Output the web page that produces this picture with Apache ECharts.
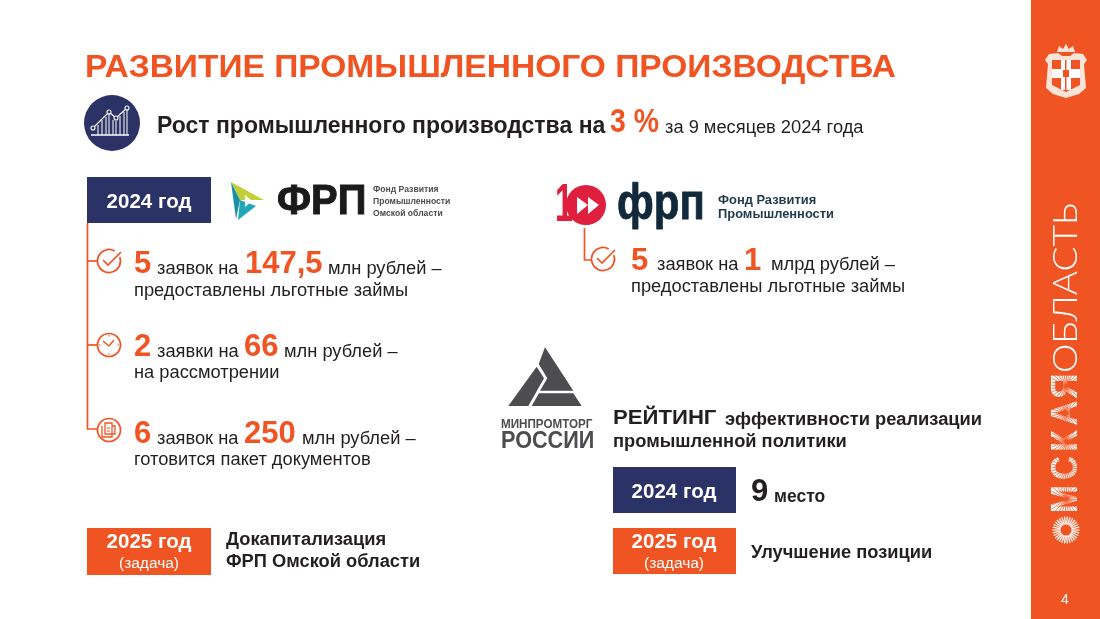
<!DOCTYPE html>
<html>
<head>
<meta charset="utf-8">
<style>html,body{margin:0;padding:0;background:#fff}#container{width:1100px;height:619px}</style>
<script src="https://cdn.jsdelivr.net/npm/echarts@6/dist/echarts.min.js"></script>
</head>
<body>
<div id="container"></div>
<script>
// тексты слайда
var titleText = 'РАЗВИТИЕ ПРОМЫШЛЕННОГО ПРОИЗВОДСТВА';
var growthLabel = 'Рост промышленного производства на';
var growthValue = '3 %';
var growthPeriod = 'за 9 месяцев 2024 года';

var fundCounts = ['5', '2', '6'];
var fundCountWords = ['заявок на', 'заявки на', 'заявок на'];
var fundAmounts = ['147,5', '66', '250'];
var fundNotes = ['предоставлены льготные займы', 'на рассмотрении', 'готовится пакет документов'];
var amountUnit = 'млн рублей –';
var fedCount = '5', fedAmount = '1', fedUnit = 'млрд рублей –';
var fundLogoLines = ['Фонд Развития', 'Промышленности', 'Омской области'];
var fedLogoLines = ['Фонд Развития', 'Промышленности'];
var sideLetters = ['М', 'С', 'К', 'А', 'Я'];

var ORANGE = '#F15423', NAVY = '#2B3265', INK = '#231F20', GREY = '#4D4D4F';
var FONT = '"Liberation Sans", Arial, sans-serif';
var BODY = 18.3, BIG = 31;
var els = [];

function txt(x, y, s, size, weight, color, align, extra, styleExtra) {
   var el = {
      type: 'text', x: x, y: y, silent: true,
      style: { text: s, fontFamily: FONT, fontSize: size, fontWeight: weight || 'normal', fill: color || INK, align: align || 'left', verticalAlign: 'middle' }
   };
   if (extra) Object.assign(el, extra);
   if (styleExtra) Object.assign(el.style, styleExtra);
   els.push(el);
}
function box(x, y, w, h, color) {
   els.push({ type: 'rect', silent: true, shape: { x: x, y: y, width: w, height: h }, style: { fill: color } });
}
function stroke(points, color, width) {
   els.push({ type: 'polyline', silent: true, shape: { points: points }, style: { stroke: color || ORANGE, lineWidth: width || 1.7, fill: null } });
}
function poly(points, color) {
   els.push({ type: 'polygon', silent: true, shape: { points: points }, style: { fill: color } });
}
function ring(x, y, r, color, width) {
   els.push({ type: 'circle', silent: true, shape: { cx: x, cy: y, r: r }, style: { fill: null, stroke: color || ORANGE, lineWidth: width || 1.7 } });
}
function disc(x, y, r, color) {
   els.push({ type: 'circle', silent: true, shape: { cx: x, cy: y, r: r }, style: { fill: color } });
}
function checkIcon(x, y) {
   els.push({ type: 'arc', silent: true, shape: { cx: x, cy: y, r: 11.5, startAngle: -0.35, endAngle: -1.05, clockwise: true }, style: { stroke: ORANGE, lineWidth: 1.7, fill: null } });
   stroke([[x - 6, y - 1], [x - 1, y + 4], [x + 12, y - 9]]);
}
function clockIcon(x, y) {
   ring(x, y, 11.5);
   stroke([[x - 6, y - 4], [x, y + 1], [x + 5, y - 5]], ORANGE, 1.4);
   for (var i = 0; i < 4; i++) {
      var a = i * Math.PI / 2;
      stroke([[x + Math.cos(a) * 8.5, y + Math.sin(a) * 8.5], [x + Math.cos(a) * 10, y + Math.sin(a) * 10]], ORANGE, 1);
   }
}
function docIcon(x, y) {
   ring(x, y, 11.5);
   stroke([[x - 7, y - 4], [x - 7, y + 7], [x + 3, y + 7], [x + 3, y - 7], [x - 4, y - 7], [x - 4, y + 4], [x + 6, y + 4], [x + 6, y - 4], [x + 3, y - 4]], ORANGE, 1.3);
   stroke([[x - 2, y - 2], [x + 1, y - 2]], ORANGE, 1);
   stroke([[x - 2, y + 1], [x + 1, y + 1]], ORANGE, 1);
}

// заголовок
txt(85, 68, titleText, 32, 'bold', ORANGE, 'left', { scaleX: 1.048 });
disc(112, 123, 28, NAVY);
stroke([[93, 128], [109, 112], [116, 118], [127, 108]], '#fff', 1.2);
[[93, 128], [109, 112], [116, 118], [127, 108]].forEach(function (p) { els.push({ type: 'circle', silent: true, shape: { cx: p[0], cy: p[1], r: 2 }, style: { fill: NAVY, stroke: '#fff', lineWidth: 1.1 } }); });
[98, 102, 106, 109, 113, 116, 120, 124, 127].forEach(function (x, i) { stroke([[x, 135], [x, [125, 120, 117, 114, 120, 121, 116, 112, 110][i]]], '#fff', 1); });
stroke([[91, 135], [129, 135]], '#fff', 1.3);
txt(157, 126.5, growthLabel, 23, 'bold', INK);
txt(610, 123, growthValue, 33, 'bold', ORANGE, 'left', { scaleX: 0.86 });
txt(665, 127.5, growthPeriod, BODY, 'normal', INK);

// левая колонка, заявки
box(87, 177, 124, 46, NAVY);
txt(149, 202, '2024 год', 20.5, 'bold', '#fff', 'center');
stroke([[87.5, 223], [87.5, 429], [97, 429]]);
stroke([[87.5, 261], [97, 261]]);
stroke([[87.5, 345], [97, 345]]);
checkIcon(109, 261); clockIcon(109, 345); docIcon(109, 430);

var rowY = [264, 347, 434];
var wordX = [157, 157, 157], amountX = [245, 244, 244], unitX = [328, 284, 302], noteY = [291, 373, 460];
fundCounts.forEach(function (c, i) {
   txt(134, rowY[i], c, BIG, 'bold', ORANGE);
   txt(wordX[i], rowY[i] + 5, fundCountWords[i], BODY, 'normal', INK);
   txt(amountX[i], rowY[i], fundAmounts[i], BIG, 'bold', ORANGE);
   txt(unitX[i], rowY[i] + 5, amountUnit, BODY, 'normal', INK);
   txt(134, noteY[i], fundNotes[i], BODY, 'normal', INK);
});

// логотип ФРП Омской области
poly([[231, 182], [264, 200], [240, 200]], '#C3CF3A');
poly([[231, 182], [240, 200], [236, 219]], '#1B8FA6');
poly([[240, 200], [256, 206], [238, 220]], '#22A6B8');
poly([[245, 195], [252, 201], [245, 207]], '#fff');
txt(277, 202, 'ФРП', 42, 'bold', '#1A1A1A', 'left', { scaleX: 0.95 }, { stroke: '#1A1A1A', lineWidth: 1 });
fundLogoLines.forEach(function (s, i) { txt(373, 190 + i * 12, s, 8.6, 'bold', GREY); });

// логотип 10 лет ФРП
txt(555, 206, '1', 54, 'bold', '#DF1F3E', 'left', { scaleX: 0.6 });
disc(586, 205, 20, '#DF1F3E');
poly([[577, 197], [588, 205], [577, 214]], '#fff');
poly([[588, 197], [599, 205], [588, 214]], '#fff');
txt(617, 205, 'фрп', 50, 'bold', '#11293A', 'left', { scaleX: 0.84 }, { stroke: '#11293A', lineWidth: 0.8 });
fedLogoLines.forEach(function (s, i) { txt(718, 200 + i * 14, s, 12.9, 'bold', '#1F3B4D'); });
stroke([[584.5, 228], [584.5, 260], [591, 260]]);
checkIcon(603, 259);
txt(631, 261, fedCount, BIG, 'bold', ORANGE);
txt(657, 265, fundCountWords[0], BODY, 'normal', INK);
txt(744, 261, fedAmount, BIG, 'bold', ORANGE);
txt(771, 265, fedUnit, BODY, 'normal', INK);
txt(631, 287, fundNotes[0], BODY, 'normal', INK);

// Минпромторг
function mp(list) { return list.map(function (p) { return [490 + p[0] / 3, 340 + p[1] / 3]; }); }
poly(mp([[165, 22], [250, 152], [150, 152], [172, 115], [146, 72]]), GREY);
poly(mp([[140, 80], [162, 115], [115, 198], [55, 198]]), GREY);
poly(mp([[147, 160], [250, 160], [275, 198], [125, 198]]), GREY);
txt(501, 425, 'МИНПРОМТОРГ', 12, 'bold', GREY, 'left', { scaleX: 0.97 });
txt(501, 442, 'РОССИИ', 23, 'bold', GREY, 'left', { scaleX: 0.94 });

txt(613, 418, 'РЕЙТИНГ', 20.5, 'bold', INK, 'left', { scaleX: 1.08 });
txt(725, 420, 'эффективности реализации', BODY, 'bold', INK);
txt(613, 442, 'промышленной политики', BODY, 'bold', INK);
box(613, 467, 123, 46, NAVY);
txt(674, 492, '2024 год', 20.5, 'bold', '#fff', 'center');
txt(751, 492, '9', BIG, 'bold', INK);
txt(774, 497.5, 'место', 17.5, 'bold', INK);
box(613, 528, 123, 46, ORANGE);
txt(674, 542, '2025 год', 20.5, 'bold', '#fff', 'center');
txt(674, 564, '(задача)', 15.5, 'normal', '#fff', 'center');
txt(751, 552.5, 'Улучшение позиции', BODY, 'bold', INK);

box(87, 528, 124, 47, ORANGE);
txt(149, 542, '2025 год', 20.5, 'bold', '#fff', 'center');
txt(149, 564, '(задача)', 15.5, 'normal', '#fff', 'center');
txt(226, 539.5, 'Докапитализация', BODY, 'bold', INK);
txt(226, 561.5, 'ФРП Омской области', BODY, 'bold', INK);

// правая полоса
box(1031, 0, 69, 619, ORANGE);
txt(1065, 600, '4', 14, 'normal', '#fff', 'center');

// герб
poly([[1045, 60], [1049, 54], [1058, 53], [1062, 56], [1070, 56], [1074, 53], [1083, 54], [1087, 60], [1084, 64], [1086, 88], [1079, 94], [1066, 98], [1053, 94], [1046, 88], [1048, 64]], '#FBE3D8');
poly([[1052, 60], [1080, 60], [1080, 85], [1066, 92], [1052, 85]], ORANGE);
box(1061, 60, 10, 30, '#fff');
box(1052, 69, 28, 9, '#fff');
box(1063, 70, 6, 7, ORANGE);
box(1065, 60, 1.5, 30, ORANGE);
poly([[1057, 52], [1059, 46], [1063, 49], [1066, 44], [1069, 49], [1073, 46], [1075, 52]], '#FBE3D8');

// вертикальная надпись
els.push({
   type: 'text', x: 1066, y: 288, rotation: Math.PI / 2, scaleX: 1.09, silent: true,
   style: { text: 'ОБЛАСТЬ', fontFamily: 'Lato, "Open Sans", sans-serif', fontSize: 34, fontWeight: 300, fill: '#fff', align: 'center', verticalAlign: 'middle' }
});

// буквы-лучи
var letterCy = [499, 468, 441, 413, 386];
var letterHalf = [14, 12, 12, 13, 12];
sideLetters.forEach(function (s, i) {
   txt(1067, letterCy[i], s, 37, 'bold', '#fff', 'center', { rotation: Math.PI / 2, scaleX: [0.92, 0.9, 0.95, 0.95, 0.95][i] });
   for (var k = 0; k < 28; k++) {
      var a = k * Math.PI / 14 + 0.05;
      var c = Math.cos(a), s2 = Math.sin(a);
      var len = Math.min(Math.abs(14 / (c || 0.001)), Math.abs(letterHalf[i] / (s2 || 0.001)));
      stroke([[1066, letterCy[i]], [1066 + c * len, letterCy[i] + s2 * len]], ORANGE, 0.8);
   }
});
for (var k = 0; k < 30; k++) {
   var a = k * Math.PI / 15;
   stroke([[1066 + Math.cos(a) * 5.5, 530 + Math.sin(a) * 5.5], [1066 + Math.cos(a) * 13.5, 530 + Math.sin(a) * 13.5]], '#fff', 1.3);
}

var myChart = echarts.init(document.getElementById('container'), null, { renderer: 'canvas' });
myChart.setOption({ animation: false, backgroundColor: '#fff', graphic: { elements: els } });
window.addEventListener('resize', myChart.resize);
</script>
</body>
</html>
